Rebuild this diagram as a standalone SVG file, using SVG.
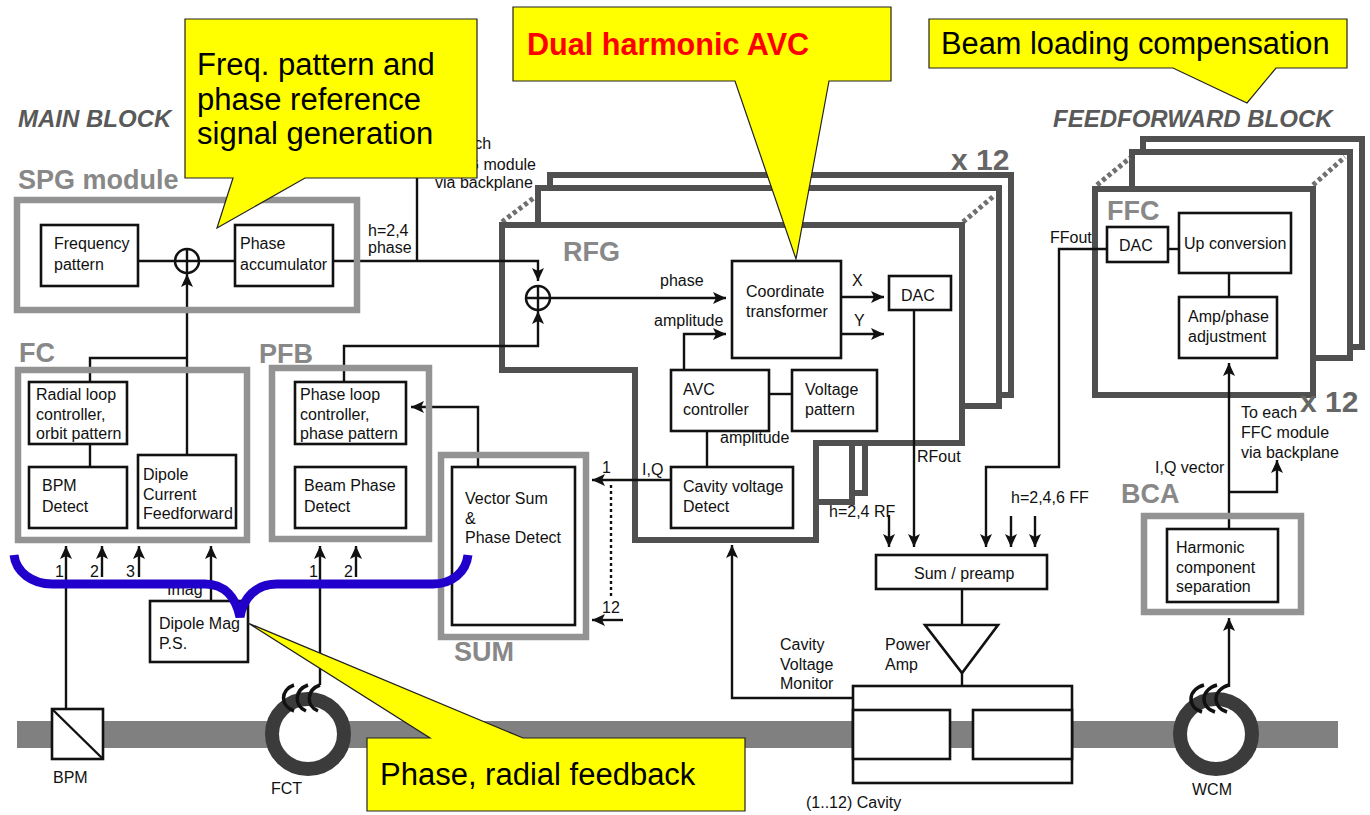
<svg xmlns="http://www.w3.org/2000/svg" width="1370" height="815" viewBox="0 0 1370 815">
<style>
text{font-family:"Liberation Sans",Arial,sans-serif;font-size:16px;fill:#111}
.h{font-weight:bold;fill:#888;font-size:27px}
.x{font-weight:bold;fill:#666;font-size:30px}
.hd{font-weight:bold;font-style:italic;fill:#595959;font-size:24px}
.box{fill:#fff;stroke:#111;stroke-width:2.6}
.mod{fill:none;stroke:#939393;stroke-width:6.5}
.rack{fill:none;stroke:#505050;stroke-width:6}
.dot{fill:none;stroke:#707070;stroke-width:5;stroke-dasharray:4 3}
.w{fill:none;stroke:#111;stroke-width:2.4}
.a{fill:none;stroke:#111;stroke-width:2.4;marker-end:url(#ar)}
.co{fill:#ff0;stroke:#222;stroke-width:1.2}
.ct{font-size:31px;fill:#000}
.ring{fill:#fff;stroke:#3b3b3b;stroke-width:14}
.coil{fill:none;stroke:#111;stroke-width:3.5}
</style>
<defs>
<marker id="ar" markerUnits="userSpaceOnUse" markerWidth="14" markerHeight="12" refX="13" refY="6" orient="auto"><path d="M0 0L13 6L0 12L3 6Z" fill="#111"/></marker>
</defs>
<rect width="1370" height="815" fill="#fff"/>
<g id="beam-pipe"><rect x="17" y="721" width="1321" height="27" fill="#808080"/></g>
<g id="rfg-stack">
<path class="rack" d="M550 188V175H1011V395H999"/>
<path class="rack" d="M538 225V188H999V406H962"/>
<path class="rack" d="M865 443V493H852"/>
<path class="rack" d="M852 443V502H816"/>
<path class="dot" d="M502 222L535 197M963 222L995 195"/>
<path class="rack" style="fill:#fff" d="M502 225H962V443H816V540H635V370H502Z"/>
<text class="h" x="563" y="261">RFG</text>
<text class="x" x="951" y="170">x 12</text>
</g>
<g id="ffc-stack">
<path class="rack" d="M1143 152V139H1362V347H1350"/>
<path class="rack" d="M1132 189V152H1350V358H1316"/>
<path class="dot" d="M1097 185L1130 158M1313 185L1345 157"/>
<rect class="rack" style="fill:#fff" x="1095" y="189" width="218" height="206"/>
<text class="h" x="1107" y="220">FFC</text>
<text class="x" x="1300" y="412">x 12</text>
</g>
<g id="labels">
<text class="hd" x="18" y="127">MAIN BLOCK</text>
<text class="hd" x="1053" y="127">FEEDFORWARD BLOCK</text>
<text x="435" y="149">To each</text>
<text x="536" y="170" text-anchor="end">RFG module</text>
<text x="435" y="188">via backplane</text>
<text x="368" y="236">h=2,4</text>
<text x="368" y="253">phase</text>
<text x="660" y="286">phase</text>
<text x="654" y="326">amplitude</text>
<text x="720" y="443">amplitude</text>
<text x="852" y="286">X</text>
<text x="854" y="326">Y</text>
<text x="642" y="475">I,Q</text>
<text x="602" y="473">1</text>
<text x="602" y="613">12</text>
<text x="917" y="462">RFout</text>
<text x="829" y="517">h=2,4 RF</text>
<text x="1011" y="503">h=2,4,6 FF</text>
<text x="1050" y="243">FFout</text>
<text x="1155" y="473">I,Q vector</text>
<text x="1241" y="418">To each</text>
<text x="1241" y="438">FFC module</text>
<text x="1241" y="458">via backplane</text>
<text x="55" y="577">1</text>
<text x="90" y="577">2</text>
<text x="126" y="577">3</text>
<text x="309" y="577">1</text>
<text x="344" y="577">2</text>
<text x="167" y="595">Imag</text>
<text x="780" y="650">Cavity</text>
<text x="780" y="670">Voltage</text>
<text x="780" y="689">Monitor</text>
<text x="885" y="650">Power</text>
<text x="885" y="670">Amp</text>
<text x="806" y="808">(1..12) Cavity</text>
<text x="53" y="783">BPM</text>
<text x="271" y="794">FCT</text>
<text x="1192" y="795">WCM</text>
</g>
<g id="connectors">
<path class="w" d="M139 261H235"/>
<path class="a" d="M333 261H538V281"/>
<path class="w" d="M417 178V261"/>
<path class="a" d="M187 455V274"/>
<path class="w" d="M90 382V358H187"/>
<path class="w" d="M90 444V467"/>
<path class="a" d="M344 382V346H538V311"/>
<path class="a" d="M478 467V407H411"/>
<path class="a" d="M671 480H592"/>
<path class="w" style="stroke-dasharray:3 3" d="M611 485V597"/>
<path class="a" d="M623 620H592"/>
<path class="a" d="M66 709V546"/>
<path class="a" d="M102 577V546"/>
<path class="a" d="M139 577V546"/>
<path class="a" d="M211 601V546"/>
<path class="a" d="M320 685V546"/>
<path class="a" d="M356 577V546"/>
<path class="a" d="M550 298H726"/>
<path class="a" d="M684 370V334H726"/>
<path class="w" d="M707 431V467"/>
<path class="w" d="M769 394H792"/>
<path class="a" d="M841 297H884"/>
<path class="a" d="M841 334H884"/>
<path class="a" d="M914 310V547"/>
<path class="a" d="M889 515V547"/>
<path class="a" d="M1107 249H1059V467H986V547"/>
<path class="a" d="M1011 516V547"/>
<path class="a" d="M1035 516V547"/>
<path class="w" d="M1168 249H1179"/>
<path class="w" d="M1229 273V297"/>
<path class="a" d="M1229 529V363"/>
<path class="a" d="M1229 492H1277V460"/>
<path class="a" d="M1229 687V618"/>
<path class="w" d="M962 589V625M962 673V686"/>
<path class="a" d="M853 698H732V545"/>
</g>
<g id="spg">
<rect class="mod" x="17" y="200" width="340" height="110"/>
<text class="h" x="18" y="189">SPG module</text>
</g>
<g id="frequency-pattern"><rect class="box" x="41" y="225" width="97" height="61"/><text x="54" y="249">Frequency</text><text x="54" y="270">pattern</text></g>
<g id="sum-spg"><circle cx="187" cy="261" r="12" fill="#fff" stroke="#111" stroke-width="2.5"/><path class="w" d="M175 261H199M187 249V273"/></g>
<g id="phase-accumulator"><rect class="box" x="235" y="225" width="98" height="61"/><text x="240" y="249">Phase</text><text x="240" y="270">accumulator</text></g>
<g id="sum-rfg"><circle cx="538" cy="298" r="12" fill="#fff" stroke="#111" stroke-width="2.5"/><path class="w" d="M526 298H550M538 286V310"/></g>
<g id="fc"><rect class="mod" x="18" y="370" width="229" height="170"/><text class="h" x="19" y="362">FC</text></g>
<g id="radial-loop"><rect class="box" x="29" y="382" width="98" height="62"/><text x="36" y="400">Radial loop</text><text x="36" y="420">controller,</text><text x="36" y="439">orbit pattern</text></g>
<g id="bpm-detect"><rect class="box" x="29" y="467" width="98" height="61"/><text x="42" y="491">BPM</text><text x="42" y="512">Detect</text></g>
<g id="dipole-current"><rect class="box" x="138" y="455" width="98" height="73"/><text x="143" y="480">Dipole</text><text x="143" y="500">Current</text><text x="143" y="519">Feedforward</text></g>
<g id="pfb"><rect class="mod" x="272" y="368" width="157" height="171"/><text class="h" x="259" y="363">PFB</text></g>
<g id="phase-loop"><rect class="box" x="295" y="382" width="111" height="62"/><text x="300" y="400">Phase loop</text><text x="300" y="420">controller,</text><text x="300" y="439">phase pattern</text></g>
<g id="beam-phase"><rect class="box" x="295" y="467" width="111" height="61"/><text x="304" y="491">Beam Phase</text><text x="304" y="512">Detect</text></g>
<g id="sum"><rect class="mod" x="441" y="455" width="145" height="182"/><text class="h" x="454" y="661">SUM</text></g>
<g id="vector-sum"><rect class="box" x="452" y="467" width="123" height="158"/><text x="465" y="504">Vector Sum</text><text x="465" y="524">&amp;</text><text x="465" y="543">Phase Detect</text></g>
<g id="dipole-mag"><rect class="box" x="150" y="601" width="98" height="61"/><text x="159" y="629">Dipole Mag</text><text x="159" y="649">P.S.</text></g>
<g id="coordinate"><rect class="box" x="732" y="261" width="109" height="97"/><text x="746" y="297">Coordinate</text><text x="746" y="317">transformer</text></g>
<g id="dac-rfg"><rect class="box" x="889" y="276" width="62" height="34"/><text x="901" y="301">DAC</text></g>
<g id="avc"><rect class="box" x="671" y="370" width="98" height="61"/><text x="683" y="395">AVC</text><text x="683" y="415">controller</text></g>
<g id="voltage-pattern"><rect class="box" x="792" y="370" width="85" height="61"/><text x="805" y="395">Voltage</text><text x="805" y="415">pattern</text></g>
<g id="cavity-detect"><rect class="box" x="671" y="467" width="122" height="61"/><text x="683" y="492">Cavity voltage</text><text x="683" y="512">Detect</text></g>
<g id="sum-preamp"><rect class="box" x="876" y="555" width="171" height="34"/><text x="914" y="579">Sum / preamp</text></g>
<g id="power-amp"><path class="box" d="M925 625H998L962 673Z"/></g>
<g id="cavity"><rect class="box" x="853" y="686" width="219" height="97"/><rect x="853" y="721" width="219" height="27" fill="#808080"/><rect class="box" x="853" y="710" width="97" height="49"/><rect class="box" x="973" y="710" width="99" height="49"/></g>
<g id="dac-ffc"><rect class="box" x="1107" y="227" width="61" height="35"/><text x="1119" y="251">DAC</text></g>
<g id="up-conversion"><rect class="box" x="1179" y="213" width="112" height="60"/><text x="1184" y="249">Up conversion</text></g>
<g id="amp-phase"><rect class="box" x="1179" y="297" width="98" height="61"/><text x="1188" y="322">Amp/phase</text><text x="1188" y="342">adjustment</text></g>
<g id="bca"><rect class="mod" x="1144" y="516" width="157" height="96"/><text class="h" x="1121" y="503">BCA</text></g>
<g id="harmonic"><rect class="box" x="1167" y="529" width="111" height="73"/><text x="1176" y="553">Harmonic</text><text x="1176" y="573">component</text><text x="1176" y="592">separation</text></g>
<g id="bpm"><rect class="box" x="52" y="709" width="51" height="50"/><path class="w" d="M52 709L103 759"/></g>
<g id="fct"><ellipse class="ring" cx="308" cy="734" rx="36" ry="35"/><path class="coil" d="M294 685C280 690 280 706 294 711M308 685C294 690 294 706 306 711M320 685C306 690 306 706 318 711"/></g>
<g id="wcm"><ellipse class="ring" cx="1216" cy="734" rx="36" ry="35"/><path class="coil" d="M1204 685C1187 690 1187 707 1202 712M1217 685C1200 690 1200 707 1215 712M1229 685C1212 690 1212 707 1227 712"/></g>
<g id="brace"><path d="M14 555C16 572 32 584 52 584L205 584C225 584 236 598 240 617C243 598 256 584 277 584L433 584C452 584 466 572 468 555" fill="none" stroke="#2200cc" stroke-width="9"/></g>
<g id="callout-freq"><path class="co" d="M185 19H477V178H305L217 228L233 178H185Z"/><text class="ct" x="197" y="75">Freq. pattern and</text><text class="ct" x="197" y="110">phase reference</text><text class="ct" x="197" y="144">signal generation</text></g>
<g id="callout-avc"><path class="co" d="M513 7H891V81H829L796 259L735 81H513Z"/><text class="ct" style="font-weight:bold;fill:#f00;font-size:30.6px" x="527" y="55">Dual harmonic AVC</text></g>
<g id="callout-beam"><path class="co" d="M929 19H1347V68H1276L1247 103L1173 68H929Z"/><text class="ct" style="font-size:30.8px" x="941" y="54">Beam loading compensation</text></g>
<g id="callout-phase"><path class="co" d="M367 738H430L248 623L523 738H745V811H367Z"/><text class="ct" x="380" y="785">Phase, radial feedback</text></g>
</svg>
